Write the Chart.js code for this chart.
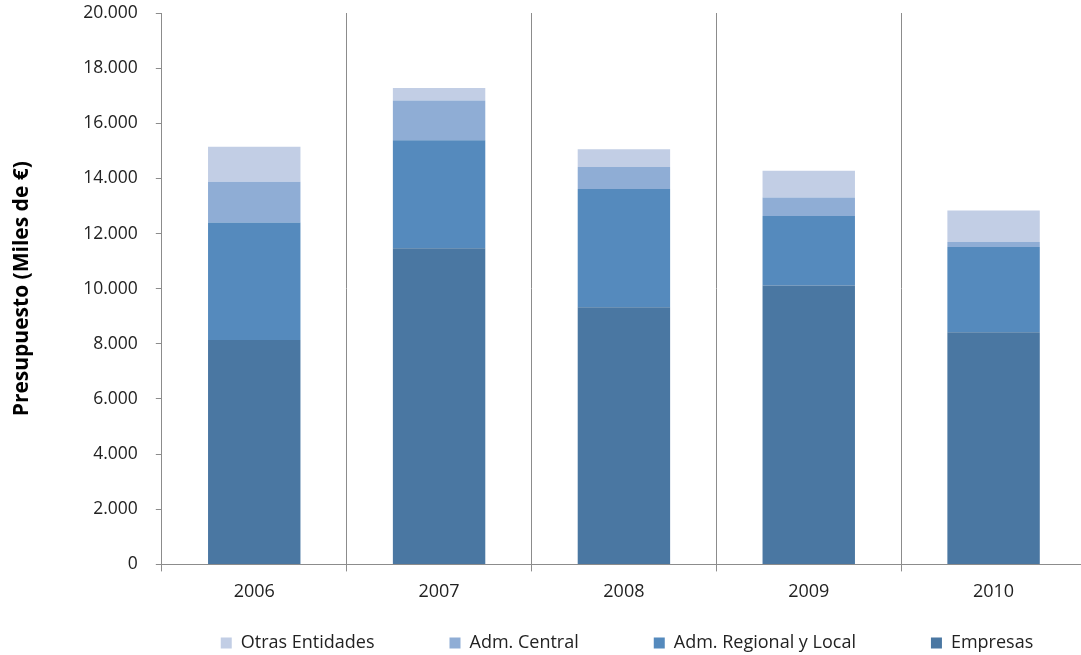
<!DOCTYPE html>
<html>
<head>
  <meta charset="UTF-8">
  <title>Presupuesto</title>
  <script src="https://cdn.jsdelivr.net/npm/chart.js@4/dist/chart.umd.min.js"></script>
  <style>
    body { margin: 0; background: #fff; overflow: hidden; }
  </style>
</head>
<body>
  <canvas id="chart" width="1092" height="655"></canvas>

  <script>
    const years = ["2006", "2007", "2008", "2009", "2010"];
    const empresas = [8140, 11470, 9330, 10120, 8420];
    const admRegional = [4260, 3910, 4290, 2520, 3090];
    const admCentral = [1480, 1450, 790, 670, 180];
    const otras = [1270, 450, 650, 970, 1150];

    const font = "'Open Sans', sans-serif";

    function miles(v) {
      return String(v).replace(/\B(?=(\d{3})+(?!\d))/g, ".");
    }

    // legend: wide gaps between items but a short box, centred under the plot
    const legendPlace = {
      id: "legendPlace",
      beforeLayout(chart) {
        const lg = chart.legend;
        if (lg && !lg._patched) {
          const fit = lg.fit.bind(lg);
          lg.fit = function () { fit(); this.height = 42; };
          lg._patched = true;
        }
      },
      afterLayout(chart) {
        const lg = chart.legend;
        const s = 627 - (lg.left + lg.right) / 2;
        lg.left += s;
        lg.right += s;
        lg.top = 559;
        lg.bottom = 655;
      }
    };

    new Chart(document.getElementById("chart"), {
      type: "bar",
      data: {
        labels: years,
        datasets: [
          { label: "Empresas", data: empresas, backgroundColor: "#4a77a2" },
          { label: "Adm. Regional y Local", data: admRegional, backgroundColor: "#558abd" },
          { label: "Adm. Central", data: admCentral, backgroundColor: "#8fadd5" },
          { label: "Otras Entidades", data: otras, backgroundColor: "#c2cee5" }
        ]
      },
      options: {
        responsive: false,
        animation: false,
        barPercentage: 0.5,
        categoryPercentage: 1,
        layout: { padding: { top: 0, right: 6, left: 5, bottom: 0 } },
        plugins: {
          legend: {
            position: "bottom",
            reverse: true,
            labels: {
              boxWidth: 11,
              boxHeight: 11,
              padding: 75,
              color: "#222",
              font: { family: font, size: 18 }
            }
          },
          tooltip: { enabled: false }
        },
        scales: {
          x: {
            stacked: true,
            grid: {
              offset: true,
              color: "#8c8c8c",
              lineWidth: 1,
              tickLength: 7
            },
            border: { color: "#8c8c8c" },
            ticks: {
              color: "#222",
              padding: 10,
              font: { family: font, size: 18 }
            }
          },
          y: {
            stacked: true,
            min: 0,
            max: 20000,
            afterFit(scale) {
              scale.paddingTop = 13;
              scale.paddingBottom = 0;
            },
            grid: {
              drawOnChartArea: false,
              color: "#8c8c8c",
              tickLength: 6
            },
            border: { color: "#8c8c8c" },
            ticks: {
              stepSize: 2000,
              color: "#222",
              padding: 18,
              font: { family: font, size: 17.5 },
              callback: v => miles(v)
            },
            title: {
              display: true,
              text: "Presupuesto (Miles de €)",
              color: "#000",
              font: { family: font, size: 21, weight: "bold" },
              padding: { top: 4, bottom: 31 }
            }
          }
        }
      },
      plugins: [legendPlace]
    });
  </script>
</body>
</html>
